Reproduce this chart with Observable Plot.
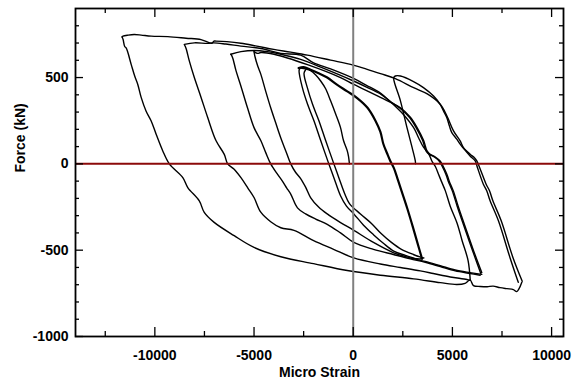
<!DOCTYPE html>
<html><head><meta charset="utf-8">
<script src="https://cdn.jsdelivr.net/npm/d3@7"></script>
<script src="https://cdn.jsdelivr.net/npm/@observablehq/plot@0.6"></script>
<style>body{margin:0;background:#fff} #chart svg text{font-weight:bold}</style>
</head><body><div id="chart"></div>
<script>
// Axis ticks
const xTicks = [-10000, -5000, 0, 5000, 10000];
const xMinor = [-12500, -7500, -2500, 2500, 7500];
const yTicks = [-1000, -500, 0, 500];
const yMinor = [-900,-800,-700,-600,-400,-300,-200,-100,100,200,300,400,600,700,800];

// Load paths (micro strain, force kN)
const s0X = [-190,-240,-300,-490,-640,-890,-1140,-1390,-1640,-1890,-2150,-2400,-2650];
const s0Y = [0,45,75,135,210,290,365,435,480,515,540,550,555];

const l1aX = [-2680,-2730,-2560,-2300,-1980,-1640,-1230,-975,-640,-340,30,520,1020,1520,2040,2630,3220,3470];
const l1aY = [555,540,440,345,250,135,0,-80,-185,-245,-290,-355,-410,-460,-505,-530,-550,-550];

const l1bX = [3470,3230,3030,2730,2430,2230,2050,1875,1710,1520,1370,1120,720,215,-300,-840,-1310,-1745,-2150,-2500,-2750];
const l1bY = [-550,-455,-375,-260,-155,-85,-25,15,60,115,185,250,325,380,420,460,500,525,545,560,555];

const l1cX = [-2400,-2480,-2310,-2050,-1730,-1390,-975,-725,-440,-190,365,920,1420,1925,2430,3030,3400,3560];
const l1cY = [545,525,440,345,250,135,0,-80,-170,-230,-290,-345,-405,-455,-495,-525,-540,-545];

const l2aX = [-5000,-4960,-4810,-4660,-4410,-4160,-3900,-3650,-3400,-3150,-2900,-2650,-2400,-2150,-1745,-1310,-640,30,1020,2040,2880,3630,4390,5140,5890,6480];
const l2aY = [650,625,565,520,420,325,235,150,75,0,-50,-85,-135,-195,-250,-290,-340,-385,-455,-515,-545,-565,-590,-615,-630,-640];

const l2bX = [6480,6150,5890,5540,5290,5040,4840,4720,4540,4390,4140,3880,3720,3550,3220,2880,2380,1370,30,-640,-2310,-3990,-4660,-4820,-5000];
const l2bY = [-630,-530,-445,-330,-245,-155,-100,-60,-15,15,40,55,75,135,210,270,325,385,460,500,575,635,645,640,650];

const l3aX = [-6170,-6080,-5910,-5660,-5330,-5000,-4660,-4410,-4160,-3820,-3570,-3350,-3150,-2810,-2400,-1890,-1310,-640,30,1020,2025,2880,3630,4390,5140,5890,6400];
const l3aY = [635,615,540,450,325,210,135,65,0,-60,-100,-140,-175,-255,-290,-320,-350,-400,-455,-495,-525,-550,-570,-595,-620,-635,-645];

const l3bX = [6430,6100,5840,5490,5240,4990,4790,4670,4490,4340,4090,3830,3670,3500,3170,2830,2330,1825,1370,670,15,-1640,-2650,-3650,-4320,-5000,-5660,-6170];
const l3bY = [-635,-530,-445,-330,-245,-155,-100,-60,-15,15,40,55,75,135,210,270,325,365,405,445,480,560,605,635,650,657,650,635];

const l4aX = [-8510,-8430,-8260,-8010,-7670,-7340,-6920,-6500,-6330,-6015,-5660,-5310,-5000,-4660,-4160,-3650,-2985,-1995,-990,30,1370,2380,3380,4035,4890,5730,5890];
const l4aY = [690,670,595,500,385,270,135,55,0,-30,-80,-140,-195,-280,-335,-370,-385,-445,-495,-545,-580,-600,-620,-635,-655,-670,-675];

const l4bX = [5900,5790,5490,5240,4890,4640,4440,4300,4140,3970,3800,3550,3300,3045,2540,1875,1370,670,15,-1140,-1995,-2650,-3650,-4660,-5660,-6420,-7020,-7340,-8010,-8510];
const l4bY = [-675,-560,-445,-345,-245,-155,-100,-60,-15,15,60,95,150,210,285,360,410,455,495,550,585,630,640,668,682,694,701,698,701,692];

const l5aX = [-11650,-11600,-11520,-11440,-11190,-11020,-10860,-10690,-10440,-10190,-9930,-9600,-9270,-8590,-8340,-7760,-7510,-7010,-6000,-5000,-3650,-2000,-300,1370,3045,4390,5225,5640,5890,6060,6400,6750,7050,7400,7750,8070,8240,8360,8500];
const l5aY = [735,720,680,670,575,510,460,385,305,250,170,75,0,-80,-137,-214,-281,-339,-416,-484,-538,-578,-618,-645,-666,-688,-699,-692,-672,-705,-710,-712,-708,-717,-723,-728,-740,-723,-686];

const l5bX = [8520,8050,7460,7040,6870,6700,6370,6230,6110,5890,5560,5390,5055,4724,4387,3734,3045,2126,1372,668,0,-1141,-2312,-3151,-4005,-4859,-5663,-6367,-6920,-7020,-7120,-7271,-7673,-8427,-9347,-10186,-10689,-11040,-11342,-11608,-11650];
const l5bY = [-680,-542,-330,-214,-156,-118,-21,17,36,56,94,133,191,277,345,405,441,494,523,549,572,601,630,647,663,682,699,708,711,711,699,702,720,728,737,740,746,749,746,740,735];

const l6X = [8320,7900,7320,6900,6730,6560,6260,6150,5890,5560,5390,5220,4970,4850,4720,4550,4380,4050,3540,3040,2380,2120,2040,2380,2710,2970,3130,3140];
const l6Y = [-686,-542,-330,-214,-156,-118,-21,17,46,90,114,143,181,219,267,306,345,393,442,477,509,509,499,365,210,94,17,0];

const thinPaths = [[s0X,s0Y],[l1aX,l1aY],[l1cX,l1cY],[l2aX,l2aY],[l2bX,l2bY],[l3aX,l3aY],[l3bX,l3bY],[l4aX,l4aY],[l4bX,l4bY],[l5aX,l5aY],[l5bX,l5bY],[l6X,l6Y]];
const thickPaths = [[l1bX,l1bY]];

function table(paths) {
  const rows = [];
  paths.forEach(([xs, ys], k) => xs.forEach((x, i) => rows.push({k, x, y: ys[i]})));
  return rows;
}

const W = 573, H = 388, mL = 75, mR = 10, mT = 8, mB = 52;
const pw = W - mL - mR, ph = H - mT - mB;
const bold = {fontWeight: "bold", fontSize: 14};

const chart = Plot.plot({
  width: W, height: H,
  marginLeft: mL, marginRight: mR, marginTop: mT, marginBottom: mB,
  style: {fontFamily: "Liberation Sans, Arial, Helvetica, sans-serif", background: "#fff", fontWeight: "bold"},
  x: {domain: [-14000, 10600]},
  y: {domain: [-1000, 900]},
  marks: [
    Plot.line(table(thinPaths), {x: "x", y: "y", z: "k", stroke: "black", strokeWidth: 1.4, curve: "catmull-rom"}),
    Plot.line(table(thickPaths), {x: "x", y: "y", z: "k", stroke: "black", strokeWidth: 2.2, curve: "catmull-rom"}),
    Plot.ruleY([0], {stroke: "#8b0a0a", strokeWidth: 2}),
    Plot.ruleX([0], {stroke: "#808080", strokeWidth: 2}),
    // inward ticks
    Plot.tickX(xTicks, {x: d => d, insetTop: ph - 9, stroke: "black", strokeWidth: 1.3}),
    Plot.tickX(xMinor, {x: d => d, insetTop: ph - 5, stroke: "black", strokeWidth: 1.3}),
    Plot.tickX(xTicks, {x: d => d, insetBottom: ph - 9, stroke: "black", strokeWidth: 1.3}),
    Plot.tickX(xMinor, {x: d => d, insetBottom: ph - 5, stroke: "black", strokeWidth: 1.3}),
    Plot.tickY(yTicks, {y: d => d, insetRight: pw - 8, stroke: "black", strokeWidth: 1.3}),
    Plot.tickY(yMinor, {y: d => d, insetRight: pw - 4, stroke: "black", strokeWidth: 1.3}),
    Plot.tickY(yTicks, {y: d => d, insetLeft: pw - 8, stroke: "black", strokeWidth: 1.3}),
    Plot.tickY(yMinor, {y: d => d, insetLeft: pw - 4, stroke: "black", strokeWidth: 1.3}),
    Plot.frame({stroke: "black", strokeWidth: 1.8}),
    Plot.axisX({anchor: "bottom", ticks: xTicks, tickSize: 0, tickPadding: 14, tickFormat: d => String(d), label: null, fill: "black", ...bold}),
    Plot.axisY({anchor: "left", ticks: yTicks, tickSize: 0, tickPadding: 7, tickFormat: d => String(d), label: null, fill: "black", ...bold}),
    Plot.text(["Micro Strain"], {frameAnchor: "bottom", dy: 40, text: d => d, fill: "black", ...bold}),
    Plot.text(["Force (kN)"], {frameAnchor: "left", dx: -55, rotate: -90, text: d => d, fill: "black", ...bold})
  ]
});
document.getElementById("chart").appendChild(chart);
</script>
</body></html>
